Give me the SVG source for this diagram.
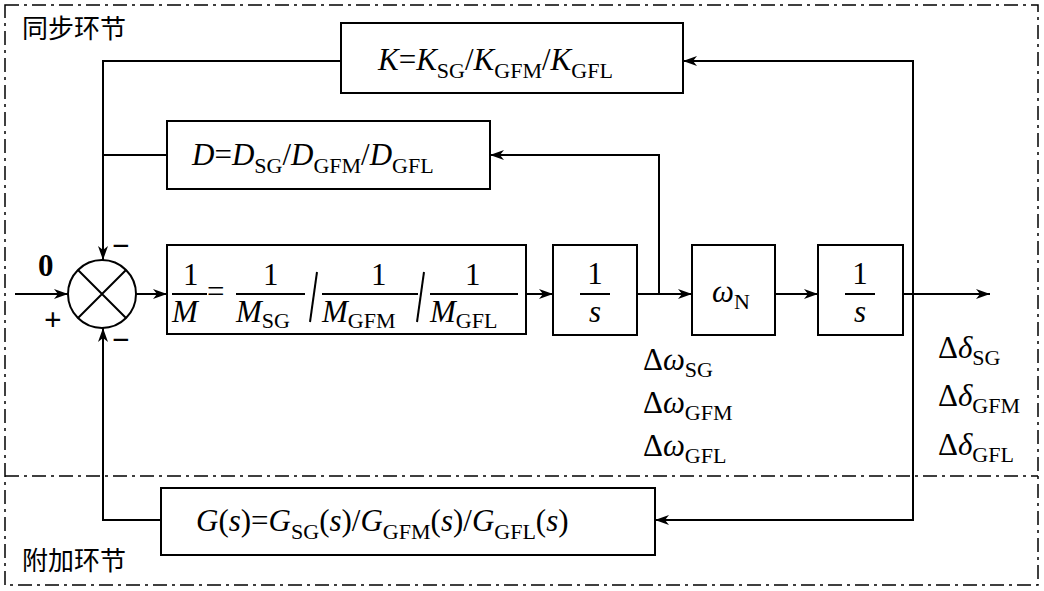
<svg xmlns="http://www.w3.org/2000/svg" width="1044" height="591" viewBox="0 0 1044 591">
<defs><marker id="a" markerWidth="14" markerHeight="10" refX="14" refY="5" orient="auto" markerUnits="userSpaceOnUse"><path d="M0,0 L14,5 L0,10 L4,5 Z" fill="#000"/></marker></defs>
<style>
.b{fill:#fff;stroke:#000;stroke-width:2}
.l{fill:none;stroke:#000;stroke-width:2}
.t{font-family:"Liberation Serif",serif;font-size:31px}
.i{font-style:italic}
.s{font-size:22px}
.c{font-family:"Noto Sans CJK SC",sans-serif;font-size:26px}
.d{fill:none;stroke:#000;stroke-width:1.5;stroke-dasharray:14,5,3,5}
</style>
<rect x="5" y="5" width="1033" height="580" class="d"/>
<line x1="5" y1="476" x2="1038" y2="476" class="d"/>
<text x="22" y="38" class="c">同步环节</text>
<text x="22" y="570" class="c">附加环节</text>
<g id="conn">
<path class="l" d="M15,294 H68" marker-end="url(#a)"/>
<path class="l" d="M136,294 H167" marker-end="url(#a)"/>
<path class="l" d="M526,294 H553" marker-end="url(#a)"/>
<path class="l" d="M637,294 H692" marker-end="url(#a)"/>
<path class="l" d="M775,294 H818" marker-end="url(#a)"/>
<path class="l" d="M903,294 H990" marker-end="url(#a)"/>
<path class="l" d="M659,294 V155 H490" marker-end="url(#a)"/>
<path class="l" d="M913,294 V61 H683" marker-end="url(#a)"/>
<path class="l" d="M913,294 V520 H655" marker-end="url(#a)"/>
<path class="l" d="M341,61 H103 V260" marker-end="url(#a)"/>
<path class="l" d="M167,155 H103"/>
<path class="l" d="M161,520 H103 V328" marker-end="url(#a)"/>
</g>
<g id="sum"><circle cx="102" cy="294" r="34" class="b"/>
<path class="l" d="M78,270 L126,318 M126,270 L78,318"/>
<text x="38" y="276" class="t" font-weight="bold">0</text><text x="44" y="330" class="t" font-weight="bold">+</text>
<text x="112" y="256" class="t" font-weight="bold">−</text><text x="112" y="350" class="t" font-weight="bold">−</text></g>
<g id="K"><rect x="341" y="23" width="342" height="70" class="b"/>
<text x="378" y="70" class="t"><tspan class="i">K</tspan>=<tspan class="i">K</tspan><tspan class="s" dy="8">SG</tspan><tspan dy="-8">/</tspan><tspan class="i">K</tspan><tspan class="s" dy="8">GFM</tspan><tspan dy="-8">/</tspan><tspan class="i">K</tspan><tspan class="s" dy="8">GFL</tspan></text></g>
<g id="D"><rect x="167" y="121" width="323" height="68" class="b"/>
<text x="192" y="165" class="t"><tspan class="i">D</tspan>=<tspan class="i">D</tspan><tspan class="s" dy="8">SG</tspan><tspan dy="-8">/</tspan><tspan class="i">D</tspan><tspan class="s" dy="8">GFM</tspan><tspan dy="-8">/</tspan><tspan class="i">D</tspan><tspan class="s" dy="8">GFL</tspan></text></g>
<g id="M"><rect x="167" y="245" width="359" height="89" class="b"/>
<text x="183" y="285" class="t">1</text><line x1="172" y1="294" x2="207" y2="294" class="l"/><text x="172" y="322" class="t i">M</text>
<text x="207" y="302" class="t">=</text>
<text x="263" y="285" class="t">1</text><line x1="236" y1="294" x2="305" y2="294" class="l"/><text x="236" y="322" class="t"><tspan class="i">M</tspan><tspan class="s" dy="6">SG</tspan></text>
<line x1="310" y1="322" x2="317" y2="272" class="l"/>
<text x="371" y="285" class="t">1</text><line x1="322" y1="294" x2="418" y2="294" class="l"/><text x="322" y="322" class="t"><tspan class="i">M</tspan><tspan class="s" dy="6">GFM</tspan></text>
<line x1="417" y1="322" x2="424" y2="272" class="l"/>
<text x="465" y="285" class="t">1</text><line x1="430" y1="294" x2="518" y2="294" class="l"/><text x="430" y="322" class="t"><tspan class="i">M</tspan><tspan class="s" dy="6">GFL</tspan></text></g>
<g id="s1"><rect x="553" y="245" width="84" height="90" class="b"/>
<text x="595" y="284" class="t" text-anchor="middle">1</text><line x1="580" y1="294" x2="610" y2="294" class="l"/><text x="595" y="322" class="t i" text-anchor="middle">s</text></g>
<g id="wN"><rect x="692" y="245" width="83" height="90" class="b"/>
<text x="712" y="302" class="t"><tspan class="i">ω</tspan><tspan class="s" dy="7">N</tspan></text></g>
<g id="s2"><rect x="818" y="245" width="85" height="90" class="b"/>
<text x="860" y="284" class="t" text-anchor="middle">1</text><line x1="845" y1="294" x2="875" y2="294" class="l"/><text x="860" y="322" class="t i" text-anchor="middle">s</text></g>
<g id="G"><rect x="161" y="488" width="494" height="67" class="b"/>
<text x="196" y="531" class="t"><tspan class="i">G</tspan>(<tspan class="i">s</tspan>)=<tspan class="i">G</tspan><tspan class="s" dy="8">SG</tspan><tspan dy="-8">(</tspan><tspan class="i">s</tspan>)/<tspan class="i">G</tspan><tspan class="s" dy="8">GFM</tspan><tspan dy="-8">(</tspan><tspan class="i">s</tspan>)/<tspan class="i">G</tspan><tspan class="s" dy="8">GFL</tspan><tspan dy="-8">(</tspan><tspan class="i">s</tspan>)</text></g>
<g id="labels" class="t">
<text x="643" y="370">Δ<tspan class="i">ω</tspan><tspan class="s" dy="7">SG</tspan></text>
<text x="643" y="413">Δ<tspan class="i">ω</tspan><tspan class="s" dy="7">GFM</tspan></text>
<text x="643" y="456">Δ<tspan class="i">ω</tspan><tspan class="s" dy="7">GFL</tspan></text>
<text x="938" y="358">Δ<tspan class="i">δ</tspan><tspan class="s" dy="7">SG</tspan></text>
<text x="938" y="406">Δ<tspan class="i">δ</tspan><tspan class="s" dy="7">GFM</tspan></text>
<text x="938" y="455">Δ<tspan class="i">δ</tspan><tspan class="s" dy="7">GFL</tspan></text>
</g>
</svg>
